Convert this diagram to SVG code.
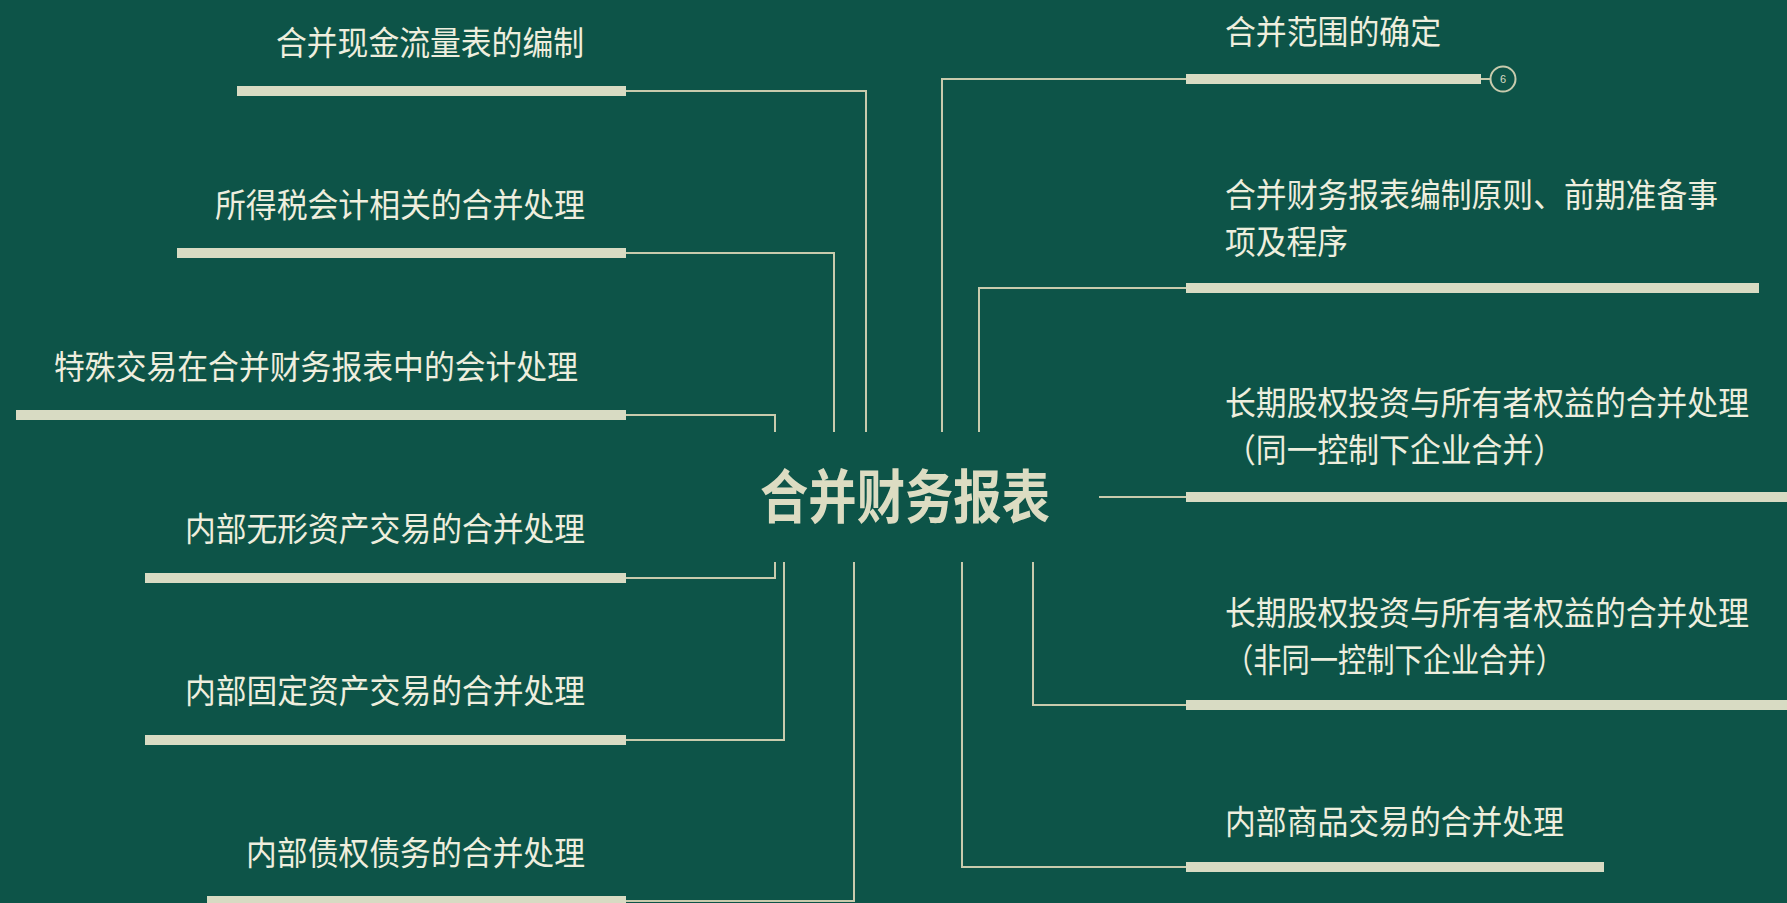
<svg xmlns="http://www.w3.org/2000/svg" width="1787" height="903" viewBox="0 0 1787 903">
<style>
.bg{fill:#0d5448}
.bar{fill:#d8dbc3}
.t{font-family:"Noto Sans CJK SC","Noto Sans",sans-serif;font-size:33px;fill:#eeeede}
.c{font-family:"Noto Sans CJK SC","Noto Sans",sans-serif;font-size:58px;font-weight:bold;fill:#dcdcc2}
.ln{fill:none;stroke:#c8cbad;stroke-width:2}
</style>
<rect class="bg" x="0" y="0" width="1787" height="903"/>
<g id="connectors">
<path class="ln" d="M626 91 H866 V432"/>
<path class="ln" d="M626 253 H834 V432"/>
<path class="ln" d="M626 415 H775 V432"/>
<path class="ln" d="M626 578 H775 V562"/>
<path class="ln" d="M626 740 H784 V562"/>
<path class="ln" d="M626 901 H854 V562"/>
<path class="ln" d="M942 432 V79 H1186"/>
<path class="ln" d="M979 432 V288 H1186"/>
<path class="ln" d="M1099 497 H1186"/>
<path class="ln" d="M1033 562 V705 H1186"/>
<path class="ln" d="M962 562 V867 H1186"/>
<path class="ln" d="M1481 79 H1491"/>
</g>
<g id="center">
<text class="c" x="760" y="518" textLength="290" lengthAdjust="spacingAndGlyphs">合并财务报表</text>
</g>
<g id="L1">
<rect class="bar" x="237" y="86" width="389" height="10"/>
<text class="t" x="276" y="55" textLength="308" lengthAdjust="spacingAndGlyphs">合并现金流量表的编制</text>
</g>
<g id="L2">
<rect class="bar" x="177" y="248" width="449" height="10"/>
<text class="t" x="215" y="217" textLength="370" lengthAdjust="spacingAndGlyphs">所得税会计相关的合并处理</text>
</g>
<g id="L3">
<rect class="bar" x="16" y="410" width="610" height="10"/>
<text class="t" x="54" y="379" textLength="524" lengthAdjust="spacingAndGlyphs">特殊交易在合并财务报表中的会计处理</text>
</g>
<g id="L4">
<rect class="bar" x="145" y="573" width="481" height="10"/>
<text class="t" x="185" y="541" textLength="400" lengthAdjust="spacingAndGlyphs">内部无形资产交易的合并处理</text>
</g>
<g id="L5">
<rect class="bar" x="145" y="735" width="481" height="10"/>
<text class="t" x="185" y="703" textLength="400" lengthAdjust="spacingAndGlyphs">内部固定资产交易的合并处理</text>
</g>
<g id="L6">
<rect class="bar" x="207" y="896" width="419" height="10"/>
<text class="t" x="246" y="865" textLength="339" lengthAdjust="spacingAndGlyphs">内部债权债务的合并处理</text>
</g>
<g id="R1">
<rect class="bar" x="1186" y="74" width="295" height="10"/>
<text class="t" x="1225" y="44" textLength="216" lengthAdjust="spacingAndGlyphs">合并范围的确定</text>
<circle cx="1503" cy="79" r="12.5" fill="none" stroke="#c8cbad" stroke-width="2"/>
<text x="1503" y="83" text-anchor="middle" font-family="Liberation Sans,sans-serif" font-size="11" fill="#d8dbc3">6</text>
</g>
<g id="R2">
<rect class="bar" x="1186" y="283" width="573" height="10"/>
<text class="t" x="1225" y="207" textLength="493" lengthAdjust="spacingAndGlyphs">合并财务报表编制原则、前期准备事</text>
<text class="t" x="1225" y="254" textLength="123" lengthAdjust="spacingAndGlyphs">项及程序</text>
</g>
<g id="R3">
<rect class="bar" x="1186" y="492" width="601" height="10"/>
<text class="t" x="1225" y="415" textLength="524" lengthAdjust="spacingAndGlyphs">长期股权投资与所有者权益的合并处理</text>
<text class="t" x="1225" y="462" textLength="339" lengthAdjust="spacingAndGlyphs">（同一控制下企业合并）</text>
</g>
<g id="R4">
<rect class="bar" x="1186" y="700" width="601" height="10"/>
<text class="t" x="1225" y="625" textLength="524" lengthAdjust="spacingAndGlyphs">长期股权投资与所有者权益的合并处理</text>
<text class="t" x="1225" y="672" textLength="339" lengthAdjust="spacingAndGlyphs">（非同一控制下企业合并）</text>
</g>
<g id="R5">
<rect class="bar" x="1186" y="862" width="418" height="10"/>
<text class="t" x="1225" y="834" textLength="339" lengthAdjust="spacingAndGlyphs">内部商品交易的合并处理</text>
</g>
</svg>
